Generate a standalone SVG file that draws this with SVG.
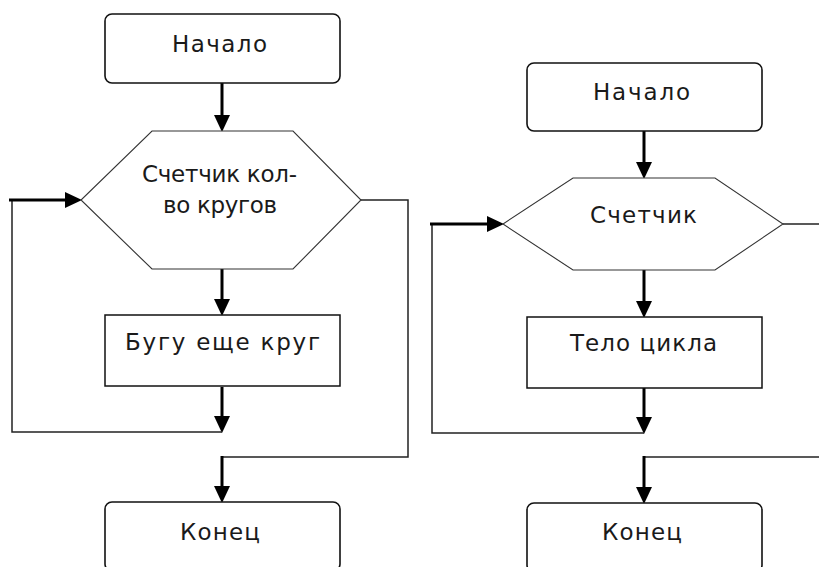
<svg xmlns="http://www.w3.org/2000/svg" width="819" height="567" viewBox="0 0 819 567">
<style>
.term{fill:#fff;stroke:#111;stroke-width:1.6}
.proc{fill:#fff;stroke:#111;stroke-width:1.5}
.hex{fill:#fff;stroke:#333;stroke-width:1.1}
.lbl{font-family:"DejaVu Sans","Liberation Sans",sans-serif;font-size:23px;fill:#1a1a1a;text-anchor:middle}
.thin{fill:none;stroke:#222;stroke-width:1.5}
.thick{fill:none;stroke:#000;stroke-width:3;marker-end:url(#ah)}
</style>
<defs>
<marker id="ah" markerUnits="userSpaceOnUse" markerWidth="17" markerHeight="17" refX="8" refY="8" orient="auto" viewBox="0 0 17 16">
<path d="M0,0 L17,8 L0,16 Z" fill="#000"/>
</marker>
</defs>
<rect width="819" height="567" fill="#fff"/>
<g id="connectors">
<line class="thick" x1="222" y1="83" x2="222" y2="123"/>
<line class="thick" x1="222" y1="269" x2="222" y2="307"/>
<line class="thick" x1="222" y1="387" x2="222" y2="424"/>
<polyline class="thin" points="222,432 12,432 12,200"/>
<line class="thick" x1="9" y1="200" x2="73" y2="200"/>
<polyline class="thin" points="361,200 408,200 408,457 222,457"/>
<line class="thick" x1="222" y1="456" x2="222" y2="494"/>
<line class="thick" x1="644" y1="131" x2="644" y2="170"/>
<line class="thick" x1="644" y1="270" x2="644" y2="309"/>
<line class="thick" x1="644" y1="388" x2="644" y2="425"/>
<polyline class="thin" points="644,433 432,433 432,224"/>
<line class="thick" x1="430" y1="224" x2="495" y2="224"/>
<line class="thin" x1="783" y1="224" x2="819" y2="224"/>
<polyline class="thin" points="819,457 644,457"/>
<line class="thick" x1="644" y1="456" x2="644" y2="495"/>
</g>
<g id="start1">
<rect class="term" x="105" y="14" width="235" height="69" rx="7"/>
<text class="lbl" x="219.5" y="52" textLength="95" lengthAdjust="spacing">Начало</text>
</g>
<g id="cond1">
<polygon class="hex" points="152,131 293,131 361,200 293,269 152,269 81,200"/>
<text class="lbl" x="219.5" y="182" textLength="155" lengthAdjust="spacing">Счетчик кол-</text>
<text class="lbl" x="220" y="213" textLength="114" lengthAdjust="spacing">во кругов</text>
</g>
<g id="body1">
<rect class="proc" x="105" y="315" width="235" height="71"/>
<text class="lbl" x="222.5" y="350" textLength="195" lengthAdjust="spacing">Бугу еще круг</text>
</g>
<g id="end1">
<rect class="term" x="105" y="502" width="235" height="69" rx="7"/>
<text class="lbl" x="220" y="540" textLength="80" lengthAdjust="spacing">Конец</text>
</g>
<g id="start2">
<rect class="term" x="527" y="63" width="235" height="68" rx="7"/>
<text class="lbl" x="641.5" y="100" textLength="97" lengthAdjust="spacing">Начало</text>
</g>
<g id="cond2">
<polygon class="hex" points="573,178 715,178 783,224 715,270 573,270 503,224"/>
<text class="lbl" x="643.5" y="223" textLength="107" lengthAdjust="spacing">Счетчик</text>
</g>
<g id="body2">
<rect class="proc" x="527" y="317" width="235" height="71"/>
<text class="lbl" x="643.5" y="351" textLength="147" lengthAdjust="spacing">Тело цикла</text>
</g>
<g id="end2">
<rect class="term" x="527" y="503" width="235" height="69" rx="7"/>
<text class="lbl" x="642" y="540" textLength="80" lengthAdjust="spacing">Конец</text>
</g>
</svg>
